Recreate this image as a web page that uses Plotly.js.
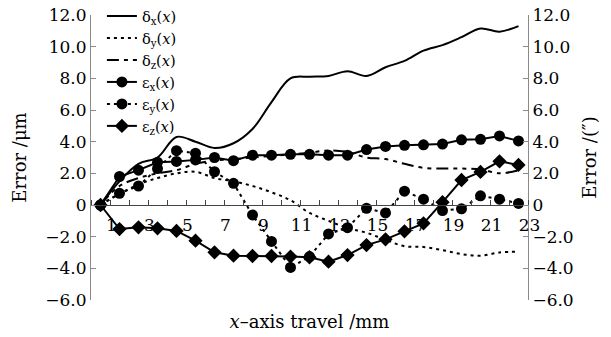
<!DOCTYPE html>
<html>
<head>
<meta charset="utf-8">
<script src="https://cdn.plot.ly/plotly-3.0.1.min.js"></script>
<style>html,body{margin:0;padding:0;background:#fff;}#chart{width:611px;height:337px;}</style>
</head>
<body>
<div id="chart"></div>
<script>
// categories (x-axis travel, mm)
const travel = [1,2,3,4,5,6,7,8,9,10,11,12,13,14,15,16,17,18,19,20,21,22,23];
// position errors (μm)
const deltaX = [0,1.5,2.6,3.0,4.3,4.0,3.6,3.9,4.8,6.5,8.0,8.1,8.15,8.45,8.15,8.7,9.1,9.75,10.1,10.6,11.15,10.95,11.3];
const deltaY = [0,0.7,1.3,1.7,2.0,2.1,1.7,1.5,1.2,0.8,0.3,-0.5,-1.0,-1.45,-1.75,-2.2,-2.6,-2.65,-2.85,-3.1,-3.2,-3.0,-2.95];
const deltaZ = [0,1.2,1.7,2.0,2.2,2.6,2.8,2.9,3.0,3.1,3.2,3.3,3.45,3.35,3.0,2.9,2.6,2.35,2.3,2.3,2.25,2.0,2.2];
// angular errors (″)
const epsX = [0,1.8,2.2,2.7,2.75,2.85,3.0,2.8,3.15,3.15,3.2,3.2,3.15,3.15,3.5,3.7,3.77,3.8,3.85,4.12,4.15,4.36,4.05];
const epsY = [0,0.74,1.2,2.3,3.43,3.27,2.1,1.37,-0.63,-2.3,-3.94,-3.26,-1.83,-1.43,-0.21,-0.5,0.87,0.37,-0.35,-0.24,0.58,0.37,0.1];
const epsZ = [0,-1.52,-1.41,-1.47,-1.64,-2.25,-2.99,-3.2,-3.22,-3.22,-3.26,-3.3,-3.58,-3.16,-2.53,-2.17,-1.66,-1.16,0.18,1.58,2.09,2.76,2.53];
// tick labels
const xTickVals = [1,3,5,7,9,11,13,15,17,19,21,23];
const xTickText = ['1','3','5','7','9','11','13','15','17','19','21','23'];
const yTickVals = [-6,-4,-2,0,2,4,6,8,10,12];
const yTickText = ['\u22126.0','\u22124.0','\u22122.0','0','2.0','4.0','6.0','8.0','10.0','12.0'];
const yRange = [-6,12];

const names = ['\u03b4<sub>x</sub>(<i>x</i>)','\u03b4<sub>y</sub>(<i>x</i>)','\u03b4<sub>z</sub>(<i>x</i>)',
               '\u03b5<sub>x</sub>(<i>x</i>)','\u03b5<sub>y</sub>(<i>x</i>)','\u03b5<sub>z</sub>(<i>x</i>)'];

const traces = [
  {x: travel, y: deltaX, name: names[0], mode: 'lines', line: {color:'#000', width:2, shape:'spline'}, yaxis:'y'},
  {x: travel, y: deltaY, name: names[1], mode: 'lines', line: {color:'#000', width:2, shape:'spline', dash:'3px,4px'}, yaxis:'y'},
  {x: travel, y: deltaZ, name: names[2], mode: 'lines', line: {color:'#000', width:2, shape:'spline', dash:'12px,5px,4px,5px,4px,5px'}, yaxis:'y'},
  {x: travel, y: epsX, name: names[3], mode: 'lines+markers', line: {color:'#000', width:2}, marker:{symbol:'circle', size:11, color:'#000'}, yaxis:'y2'},
  {x: travel, y: epsY, name: names[4], mode: 'lines+markers', line: {color:'#000', width:2, dash:'3px,4px'}, marker:{symbol:'circle', size:11, color:'#000'}, yaxis:'y2'},
  {x: travel, y: epsZ, name: names[5], mode: 'lines+markers', line: {color:'#000', width:2}, marker:{symbol:'diamond', size:11, color:'#000'}, yaxis:'y2'}
];

// plot area: no top margin, y-axis occupies lower part so legend can sit above the axis top
const marginT = 0, marginB = 37, figH = 337;
const plotH = figH - marginT - marginB;
const yDomainTop = 1 - 15 / plotH;

const yCommon = {
  range: yRange, tickvals: yTickVals, ticktext: yTickText, domain: [0, yDomainTop],
  ticks: 'inside', ticklen: 5, tickcolor: '#8a8a8a', tickwidth: 1,
  showline: true, linecolor: '#8a8a8a', linewidth: 1,
  showgrid: false, zeroline: false,
  tickfont: {size: 17, color: '#000'}
};

const layout = {
  width: 611, height: figH,
  margin: {l: 91, r: 83, t: marginT, b: marginB},
  paper_bgcolor: '#fff', plot_bgcolor: 'rgba(0,0,0,0)',
  font: {family: '"DejaVu Serif", "Liberation Serif", serif', color: '#000'},
  showlegend: true,
  legend: {x: 0.025, y: 1, xanchor: 'left', yanchor: 'top',
           bgcolor: 'rgba(0,0,0,0)', font: {size: 14.6}, tracegroupgap: 0},
  xaxis: {
    range: [0.5, 23.5], anchor: 'free',
    position: yDomainTop * (0 - yRange[0]) / (yRange[1] - yRange[0]),
    tickvals: xTickVals, ticktext: xTickText, ticks: '',
    ticklabelshift: 11, ticklabelstandoff: 5,
    showline: true, linecolor: '#444', linewidth: 1,
    showgrid: false, zeroline: false,
    minor: {tick0: 0.5, dtick: 1, ticks: 'inside', ticklen: 5, tickcolor: '#444', showgrid: false},
    tickfont: {size: 17, color: '#000'},
    title: {text: '<i>x</i>\u2013axis travel /mm', font: {size: 18}, standoff: 80}
  },
  yaxis: Object.assign({}, yCommon, {title: {text: 'Error /\u03bcm', font: {size: 18}, standoff: 14}}),
  yaxis2: Object.assign({}, yCommon, {overlaying: 'y', side: 'right', title: {text: 'Error /(\u2033)', font: {size: 18}, standoff: 10}})
};

Plotly.newPlot('chart', traces, layout, {staticPlot: true, displayModeBar: false});
</script>
</body>
</html>
